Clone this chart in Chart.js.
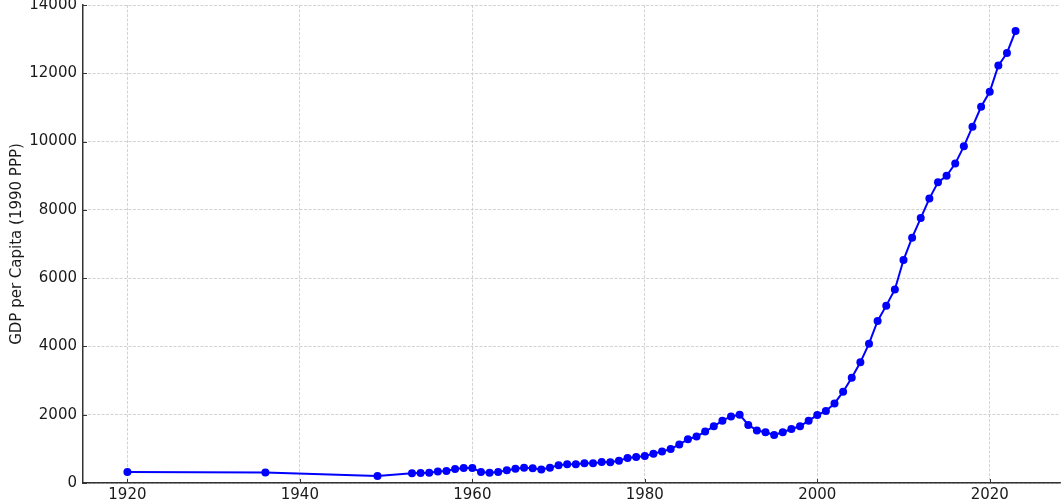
<!DOCTYPE html>
<html>
<head>
<meta charset="utf-8">
<script src="https://cdn.jsdelivr.net/npm/chart.js@4/dist/chart.umd.min.js"></script>
<style>
  html, body { margin: 0; padding: 0; background: #ffffff; }
  #wrap { width: 1064px; height: 500px; }
</style>
</head>
<body>
<div id="wrap"><canvas id="c" width="1064" height="500"></canvas></div>
<script>
const years = [1920, 1936, 1949,
  1953, 1954, 1955, 1956, 1957, 1958, 1959, 1960, 1961, 1962, 1963, 1964, 1965, 1966, 1967, 1968, 1969,
  1970, 1971, 1972, 1973, 1974, 1975, 1976, 1977, 1978, 1979, 1980, 1981, 1982, 1983, 1984, 1985, 1986,
  1987, 1988, 1989, 1990, 1991, 1992, 1993, 1994, 1995, 1996, 1997, 1998, 1999, 2000, 2001, 2002, 2003,
  2004, 2005, 2006, 2007, 2008, 2009, 2010, 2011, 2012, 2013, 2014, 2015, 2016, 2017, 2018, 2019, 2020,
  2021, 2022, 2023];
const gdpPerCapita = [320, 310, 205,
  285, 290, 300, 340, 350, 410, 440, 440, 320, 300, 320, 370, 420, 450, 430, 395, 450,
  520, 550, 550, 575, 575, 615, 605, 655, 730, 760, 790, 860, 920, 995, 1130, 1280, 1360,
  1505, 1660, 1825, 1950, 2000, 1700, 1540, 1485, 1405, 1485, 1580, 1660, 1825, 1990, 2110, 2330, 2675,
  3085, 3535, 4080, 4745, 5195, 5670, 6530, 7185, 7760, 8330, 8805, 9000, 9355, 9860, 10435, 11020, 11460,
  12225, 12595, 13240];
const xTickValues = [1920, 1940, 1960, 1980, 2000, 2020];
const yTickValues = [0, 2000, 4000, 6000, 8000, 10000, 12000, 14000];
const yAxisTitle = 'GDP per Capita (1990 PPP)';

const points = years.map((y, i) => ({ x: y, y: gdpPerCapita[i] }));
const FONT = "'DejaVu Sans', sans-serif";

const inwardTicks = {
  id: 'inwardTicks',
  afterDraw(chart) {
    const ctx = chart.ctx;
    const xs = chart.scales.x, ys = chart.scales.y;
    const area = chart.chartArea;
    ctx.save();
    ctx.strokeStyle = '#333333';
    ctx.lineWidth = 1;
    ctx.beginPath();
    xTickValues.forEach(v => {
      const px = Math.round(xs.getPixelForValue(v)) + 0.5;
      ctx.moveTo(px, area.bottom);
      ctx.lineTo(px, area.bottom - 4);
    });
    yTickValues.forEach(v => {
      const py = Math.round(ys.getPixelForValue(v)) + 0.5;
      ctx.moveTo(area.left, py);
      ctx.lineTo(area.left + 4, py);
    });
    ctx.stroke();
    ctx.restore();
  }
};

new Chart(document.getElementById('c'), {
  type: 'line',
  data: {
    datasets: [{
      data: points,
      borderColor: '#0000ff',
      backgroundColor: '#0000ff',
      borderWidth: 2,
      pointRadius: 4,
      pointBorderWidth: 0,
      pointBackgroundColor: '#0000ff',
      tension: 0,
      clip: false
    }]
  },
  options: {
    responsive: false,
    maintainAspectRatio: false,
    devicePixelRatio: 1,
    animation: false,
    layout: { padding: { top: 5, right: 3, left: 0, bottom: 0 } },
    plugins: { legend: { display: false }, tooltip: { enabled: false } },
    scales: {
      x: {
        type: 'linear',
        min: 1914.85,
        max: 2028.15,
        afterBuildTicks(scale) { scale.ticks = xTickValues.map(v => ({ value: v })); },
        afterFit(scale) { scale.height = 17; scale.paddingLeft = 0; scale.paddingRight = 0; },
        ticks: {
          color: '#1a1a1a',
          font: { family: FONT, size: 15 },
          padding: 3,
          maxRotation: 0,
          callback: v => String(v)
        },
        grid: { color: '#c8c8c8', lineWidth: 0.8, drawTicks: false },
        border: { display: true, color: '#333333', width: 1.5, dash: [3, 1.5] }
      },
      y: {
        type: 'linear',
        min: 0,
        max: 14000,
        afterBuildTicks(scale) { scale.ticks = yTickValues.map(v => ({ value: v })); },
        afterFit(scale) { scale.width = 83; scale.paddingTop = 0; scale.paddingBottom = 0; },
        ticks: {
          color: '#1a1a1a',
          font: { family: FONT, size: 15 },
          padding: 6,
          callback: v => String(v)
        },
        title: {
          display: true,
          text: yAxisTitle,
          color: '#1a1a1a',
          font: { family: FONT, size: 15 },
          padding: { top: 8.5, bottom: 0 }
        },
        grid: { color: '#c8c8c8', lineWidth: 0.8, drawTicks: false },
        border: { display: true, color: '#333333', width: 1.5, dash: [3, 1.5] }
      }
    }
  },
  plugins: [inwardTicks]
});
</script>
</body>
</html>
